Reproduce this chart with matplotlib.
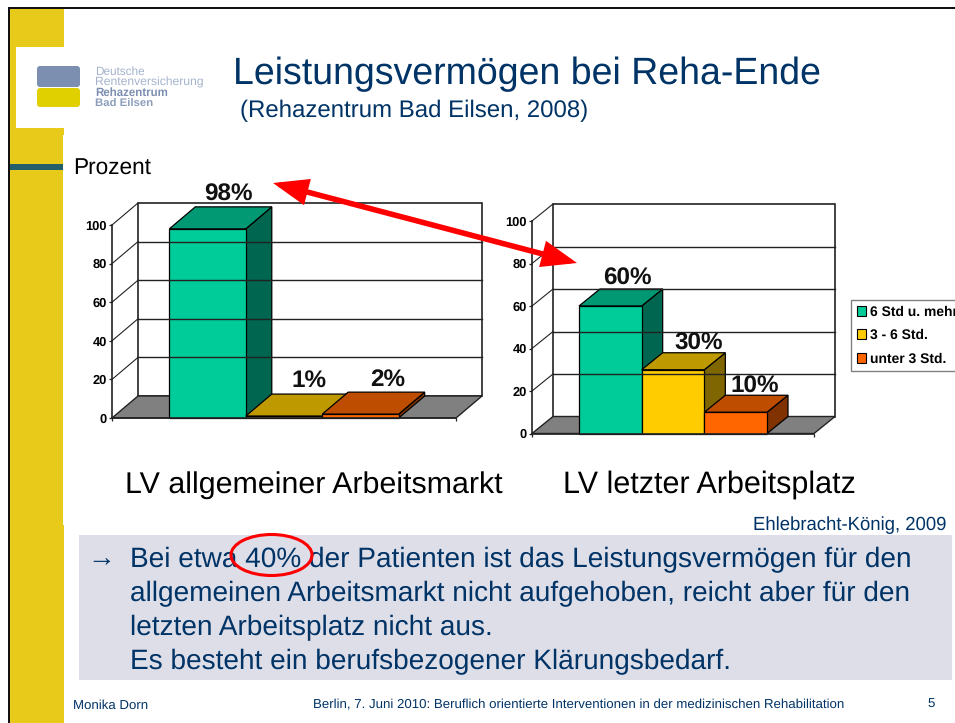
# folie: Leistungsvermögen bei Reha-Ende
import matplotlib
matplotlib.use("Agg")
import matplotlib.pyplot as plt
from matplotlib.patches import Rectangle, Ellipse, FancyBboxPatch, FancyArrowPatch, Patch

plt.rcParams['font.family'] = ['Liberation Sans', 'DejaVu Sans']
plt.rcParams['text.hinting'] = 'none'

W, H = 955, 723

# Daten
serien = ['6 Std u. mehr', '3 - 6 Std.', 'unter 3 Std.']
werte_allgemein = [98, 1, 2]
werte_letzter = [60, 30, 10]
yticks = [0, 20, 40, 60, 80, 100]
titel_allgemein = 'LV allgemeiner Arbeitsmarkt'
titel_letzter = 'LV letzter Arbeitsplatz'
text_zeilen = [
    'Bei etwa 40% der Patienten ist das Leistungsvermögen für den',
    'allgemeinen Arbeitsmarkt nicht aufgehoben, reicht aber für den',
    'letzten Arbeitsplatz nicht aus.',
    'Es besteht ein berufsbezogener Klärungsbedarf.',
]

# Farben
blau = '#003366'
gelb = '#E8CB1A'
front = ['#00CC99', '#FFCC00', '#FF6600']
oben = ['#009973', '#BF9900', '#BF4D00']
seite = ['#006650', '#806600', '#803300']

fig = plt.figure(figsize=(W / 100, H / 100), dpi=100, facecolor='white')

# Hintergrund der Folie in Pixeln
bg = fig.add_axes([0, 0, 1, 1], zorder=0)
bg.set_xlim(0, W)
bg.set_ylim(H, 0)
bg.axis('off')

bg.add_patch(Rectangle((10, 9), 54, H, fc=gelb, ec='none'))
bg.add_patch(Rectangle((63, 135), 2, 390, fc='white', ec='none'))
bg.add_patch(Rectangle((16, 47), 48, 81, fc='white', ec='none'))
bg.add_patch(Rectangle((10, 164), 53, 6, fc='#235F6B', ec='none'))
bg.add_patch(Rectangle((7.5, 7), 2.5, H, fc='#111111', ec='none'))
bg.add_patch(Rectangle((7.5, 7), W, 2, fc='#111111', ec='none'))
bg.add_patch(Rectangle((79, 535), 873, 145, fc='#DEDEE8', ec='none'))

# Logo
bg.add_patch(FancyBboxPatch((39, 68), 39, 17, boxstyle='round,pad=2,rounding_size=3', fc='#7C8FB0', ec='none'))
bg.add_patch(FancyBboxPatch((39, 90), 39, 15, boxstyle='round,pad=2,rounding_size=3', fc='#E0D000', ec='none'))
bg.text(95, 72, 'Deutsche', fontsize=8.5, color='#A4B2CC', va='center')
bg.text(95, 82.5, 'Rentenversicherung', fontsize=8.7, color='#A4B2CC', va='center')
bg.text(95, 93, 'Rehazentrum', fontsize=8.3, color='#7C8FB0', va='center', fontweight='bold')
bg.text(95, 104, 'Bad Eilsen', fontsize=8.2, color='#8C9DBB', va='center', fontweight='bold')

# Titel
bg.text(233, 74, 'Leistungsvermögen bei Reha-Ende', fontsize=27, color=blau, va='center')
bg.text(240, 111, '(Rehazentrum Bad Eilsen, 2008)', fontsize=17.25, color=blau, va='center')
bg.text(73, 169, 'Prozent', fontsize=16.3, color='black', va='center')
bg.text(125, 485, titel_allgemein, fontsize=21.87, color='black', va='center')
bg.text(563, 485, titel_letzter, fontsize=22, color='black', va='center')
bg.text(753, 525, 'Ehlebracht-König, 2009', fontsize=13.35, color=blau, va='center')

# Text unten
bg.text(87, 559, '→', fontsize=20, color=blau, va='center')
for y, zeile in zip([560, 594, 628, 662], text_zeilen):
    bg.text(130, y, zeile, fontsize=20.15, color=blau, va='center')

# Fusszeile
bg.text(73, 706, 'Monika Dorn', fontsize=9.5, color=blau, va='center')
bg.text(313, 705, 'Berlin, 7. Juni 2010: Beruflich orientierte Interventionen in der medizinischen Rehabilitation',
        fontsize=9.5, color=blau, va='center')
bg.text(927, 705, '5', fontsize=9.5, color=blau, va='center')


def balken_3d(links, rechts, y0, y100, werte, dx_px, dy_px, label_off):
    ax = fig.add_axes([links / W, 1 - y0 / H, (rechts - links) / W, (y0 - y100) / H], zorder=1)
    ax.patch.set_alpha(0)
    xmin, xmax = -1.25, 3.25
    ax.set_xlim(xmin, xmax)
    ax.set_ylim(0, 100)
    dx = dx_px / (rechts - links) * (xmax - xmin)
    dy = dy_px / (y0 - y100) * 100

    # Rueckwand und Boden
    ax.fill([xmin + dx, xmax + dx, xmax + dx, xmin + dx], [dy, dy, 100 + dy, 100 + dy],
            fc='white', ec='#222222', lw=1.2, clip_on=False)
    ax.fill([xmin, xmax, xmax + dx, xmin + dx], [0, 0, dy, dy],
            fc='#808080', ec='#222222', lw=1, clip_on=False)
    for v in yticks[1:-1]:
        ax.plot([xmin + dx, xmax + dx], [v + dy, v + dy], color='#222222', lw=1, clip_on=False)
    for v in yticks[1:]:
        ax.plot([xmin, xmin + dx], [v, v + dy], color='#222222', lw=0.8, clip_on=False)

    # Balken
    breite = 1.0
    for i, v in enumerate(werte):
        l, r = i - breite / 2, i + breite / 2
        ax.fill([r, r + dx, r + dx, r], [0, dy, v + dy, v], fc=seite[i], ec='black', lw=0.9, clip_on=False)
        ax.fill([l, r, r + dx, l + dx], [v, v, v + dy, v + dy], fc=oben[i], ec='black', lw=0.9, clip_on=False)
        ax.fill([l, r, r, l], [0, 0, v, v], fc=front[i], ec='black', lw=0.9, clip_on=False)
        ax.annotate(f'{v}%', (i + dx, v + dy), xytext=label_off[i], textcoords='offset pixels',
                    ha='center', va='center', fontsize=17.5, fontweight='bold', color='#111111',
                    annotation_clip=False)

    for s in ['top', 'right']:
        ax.spines[s].set_visible(False)
    for s in ['left', 'bottom']:
        ax.spines[s].set_color('#222222')
        ax.spines[s].set_linewidth(1.2)
    ax.set_yticks(yticks)
    ax.set_xticks([xmin, xmax])
    ax.set_xticklabels([])
    ax.tick_params(length=2.5, width=0.9, color='#222222', pad=1)
    for t in ax.get_yticklabels():
        t.set_fontsize(9.3)
        t.set_fontweight('bold')
    return ax


balken_3d(112, 456, 418, 225, werte_allgemein, 26, 22, [(-5, 12), (-1, 13), (1, 13)])
balken_3d(532, 814, 433.5, 221, werte_letzter, 21, 17, [(-4, 10), (5, 9), (-2, 9)])

# Legende
griffe = [Patch(fc=front[i], ec='black', lw=0.8, label=serien[i]) for i in range(3)]
fig.legend(handles=griffe, loc='upper left', bbox_to_anchor=(851 / W, 1 - 300 / H), bbox_transform=fig.transFigure,
           fancybox=False, edgecolor='#808080', facecolor='white', framealpha=1, borderaxespad=0,
           prop={'size': 10, 'weight': 'bold'}, handlelength=0.7, handleheight=0.7, handletextpad=0.25,
           labelspacing=0.75, borderpad=0.4)

# Pfeil und Kreis oben drauf
top = fig.add_axes([0, 0, 1, 1], zorder=3)
top.set_xlim(0, W)
top.set_ylim(H, 0)
top.axis('off')
top.add_patch(FancyArrowPatch((273, 183), (577, 263), arrowstyle='<|-|>,head_length=1.0,head_width=0.38',
                              mutation_scale=18, lw=4, color='#FF0000', shrinkA=0, shrinkB=0, joinstyle='miter'))
top.add_patch(Ellipse((271.5, 555), 81, 41, fc='none', ec='#FF0000', lw=2.2))

fig.savefig('out.png', dpi=100)
